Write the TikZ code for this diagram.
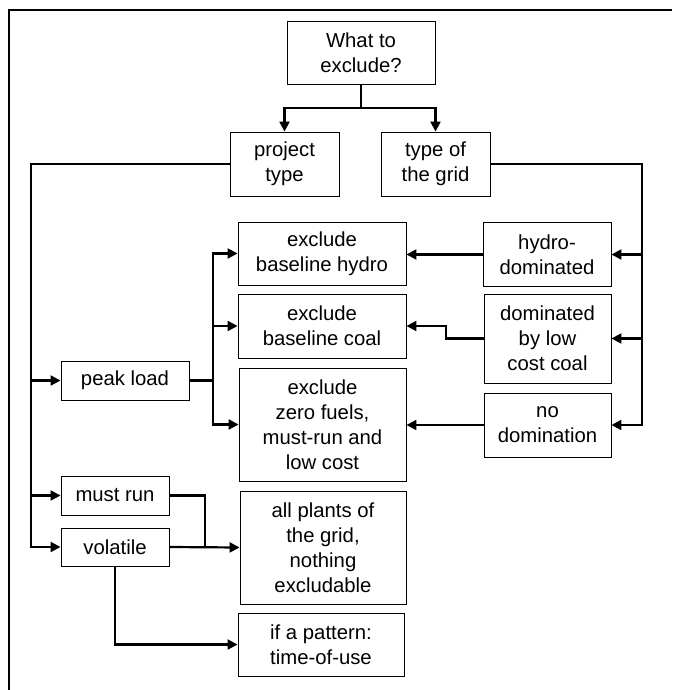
\documentclass[tikz,border=0pt]{standalone}
\usepackage{fontspec}
\setmainfont{Liberation Sans}
\usetikzlibrary{arrows.meta}
\begin{document}
\begin{tikzpicture}[x=1pt,y=-1pt,
  box/.style={draw=black,line width=0.9pt,align=center,inner sep=0pt,
    font=\fontsize{20.3}{25}\selectfont},
  conn/.style={line width=2.2pt,line join=miter},
  arr/.style={conn,-{Triangle[length=10pt,width=10pt]}},
  frame/.style={line width=1.6pt}]
\useasboundingbox (0,0) rectangle (672,690);
\draw[frame] (9,690) -- (9,10) -- (672,10);
\node[box,minimum width=148pt,minimum height=63pt] (top) at (361,52.5) {What to\\exclude?};
\node[box,minimum width=109pt,minimum height=64pt] (ptype) at (284.5,164) {project\\type};
\node[box,minimum width=109pt,minimum height=64pt] (gtype) at (435.5,164) {type of\\the grid};
\node[box,minimum width=168pt,minimum height=63pt] (hydro) at (322,253.5) {exclude\\baseline hydro};
\node[box,minimum width=168pt,minimum height=64pt] (coal) at (322,326) {exclude\\baseline coal};
\node[box,minimum width=167pt,minimum height=113pt] (zero) at (322.5,424.5) {exclude\\zero fuels,\\must-run and\\low cost};
\node[box,minimum width=128pt,minimum height=64pt] (hdom) at (547,254.5) {hydro-\\dominated};
\node[box,minimum width=127pt,minimum height=89pt] (cdom) at (547.5,338.5) {dominated\\by low\\cost coal};
\node[box,minimum width=127pt,minimum height=64pt] (ndom) at (547.5,425) {no\\domination};
\node[box,minimum width=128pt,minimum height=39pt] (peak) at (125,380.5) {peak load};
\node[box,minimum width=108pt,minimum height=39pt] (must) at (115,495.5) {must run};
\node[box,minimum width=108pt,minimum height=38pt] (vol) at (115,547) {volatile};
\node[box,minimum width=166pt,minimum height=113pt] (allp) at (323,547.5) {all plants of\\the grid,\\nothing\\excludable};
\node[box,minimum width=166pt,minimum height=63pt] (pat) at (321,644.5) {if a pattern:\\time-of-use};
% top split
\coordinate (j1) at (361,108);
\draw[conn] (top.south) -- (j1);
\draw[arr] (j1) -| (ptype.north);
\draw[arr] (j1) -| (gtype.north);
% left trunk
\coordinate (lt) at (31,164);
\draw[arr] (ptype.west) -- (lt) |- (vol.west);
\draw[arr] (lt |- peak.west) -- (peak.west);
\draw[arr] (lt |- must.west) -- (must.west);
% right trunk
\coordinate (rt) at (642,164);
\draw[arr] (gtype.east) -- (rt) |- (ndom.east);
\draw[arr] (rt |- hdom.east) -- (hdom.east);
\draw[arr] (rt |- cdom.east) -- (cdom.east);
% peak load fan
\coordinate (pj) at (213,380.5);
\draw[conn] (peak.east) -- (pj);
\draw[arr] (pj) |- (hydro.west);
\draw[arr] (pj) |- (coal.west);
\draw[arr] (pj) |- (zero.west);
% grid types to exclusions
\draw[arr] (hdom.west) -- (hydro.east |- hdom.west);
\coordinate (cj) at (446,338.5);
\draw[arr] (cdom.west) -- (cj) |- (coal.east);
\draw[arr] (ndom.west) -- (zero.east |- ndom.west);
% must run / volatile
\coordinate (mj) at (205,547);
\draw[conn] (must.east) -| (mj);
\draw[arr] (vol.east) -- (allp.west);
\draw[arr] (vol.south) |- (pat.west);
\end{tikzpicture}
\end{document}
